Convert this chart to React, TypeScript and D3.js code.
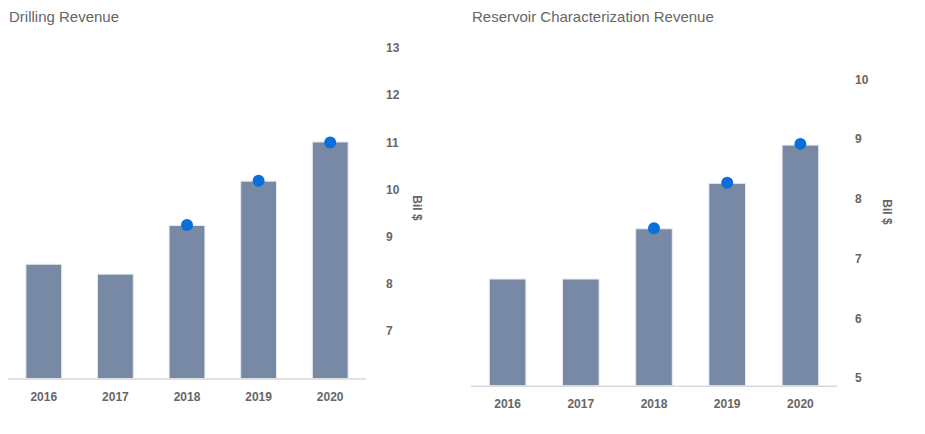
import React, { useEffect, useRef } from "react";
import * as d3 from "d3";

const years = ["2016", "2017", "2018", "2019", "2020"];

// Drilling, Bil $
const drillingRevenue = [8.42, 8.21, 9.24, 10.18, 11.01];
const drillingDots = [null, null, 9.25, 10.19, 11.0];
const drillingTicks = [7, 8, 9, 10, 11, 12, 13];

// Reservoir Characterization, Bil $
const reservoirRevenue = [6.66, 6.66, 7.5, 8.26, 8.9];
const reservoirDots = [null, null, 7.51, 8.27, 8.92];
const reservoirTicks = [5, 6, 7, 8, 9, 10];

type PanelProps = {
  title: string;
  titleX: number;
  values: number[];
  dots: (number | null)[];
  ticks: number[];
  yDomain: [number, number];
  yRange: [number, number];
  xRange: [number, number];
  tickX: number;
  unitX: number;
  unitY: number;
};

const FONT = "'Liberation Sans', Arial, sans-serif";

function drawPanel(svg: d3.Selection<SVGSVGElement, unknown, null, undefined>, p: PanelProps) {
  const g = svg.append("g");

  const x = d3.scaleBand()
    .domain(years)
    .range(p.xRange)
    .paddingInner(0.5)
    .paddingOuter(0.25);

  const y = d3.scaleLinear()
    .domain(p.yDomain)
    .range(p.yRange);

  const base = p.yRange[0];

  g.append("text")
    .attr("x", p.titleX)
    .attr("y", 22)
    .attr("font-family", FONT)
    .attr("font-size", 15)
    .attr("fill", "#666")
    .text(p.title);

  // y tick labels on the right
  g.selectAll(".ytick")
    .data(p.ticks)
    .enter()
    .append("text")
    .attr("x", p.tickX)
    .attr("y", d => y(d))
    .attr("dy", "0.35em")
    .attr("font-family", FONT)
    .attr("font-size", 12)
    .attr("font-weight", "bold")
    .attr("fill", "#666")
    .text(d => d);

  g.append("text")
    .attr("transform", `translate(${p.unitX},${p.unitY}) rotate(90)`)
    .attr("text-anchor", "middle")
    .attr("font-family", FONT)
    .attr("font-size", 12)
    .attr("font-weight", "bold")
    .attr("fill", "#666")
    .text("Bil $");

  g.selectAll("rect")
    .data(p.values)
    .enter()
    .append("rect")
    .attr("x", (_, i) => x(years[i])!)
    .attr("y", d => y(d))
    .attr("width", x.bandwidth())
    .attr("height", d => base - y(d))
    .attr("fill", "#7889a5")
    .attr("stroke", "#e8ebf0")
    .attr("stroke-width", 1);

  // baseline
  g.append("line")
    .attr("x1", p.xRange[0])
    .attr("x2", p.xRange[1])
    .attr("y1", base + 0.5)
    .attr("y2", base + 0.5)
    .attr("stroke", "#d8d8d8")
    .attr("stroke-width", 1.5);

  g.selectAll(".xlabel")
    .data(years)
    .enter()
    .append("text")
    .attr("x", d => x(d)! + x.bandwidth() / 2)
    .attr("y", base + 22)
    .attr("text-anchor", "middle")
    .attr("font-family", FONT)
    .attr("font-size", 12)
    .attr("font-weight", "bold")
    .attr("fill", "#666")
    .text(d => d);

  g.selectAll("circle")
    .data(p.dots.map((v, i) => ({ v, year: years[i] })).filter(d => d.v !== null))
    .enter()
    .append("circle")
    .attr("cx", d => x(d.year)! + x.bandwidth() / 2)
    .attr("cy", d => y(d.v as number))
    .attr("r", 6)
    .attr("fill", "#0a6fdb");
}

const App: React.FC = () => {
  const svgRef = useRef<SVGSVGElement | null>(null);

  useEffect(() => {
    if (!svgRef.current) return;
    const svg = d3.select(svgRef.current);
    svg.selectAll("*").remove();

    drawPanel(svg, {
      title: "Drilling Revenue",
      titleX: 9,
      values: drillingRevenue,
      dots: drillingDots,
      ticks: drillingTicks,
      yDomain: [6, 13],
      yRange: [378.5, 48],
      xRange: [8, 366],
      tickX: 386,
      unitX: 413,
      unitY: 208,
    });

    drawPanel(svg, {
      title: "Reservoir Characterization Revenue",
      titleX: 472,
      values: reservoirRevenue,
      dots: reservoirDots,
      ticks: reservoirTicks,
      yDomain: [4.876, 10],
      yRange: [385.7, 79.3],
      xRange: [471, 837],
      tickX: 855,
      unitX: 883,
      unitY: 212,
    });
  }, []);

  return (
    <svg
      ref={svgRef}
      width={925}
      height={434}
      style={{ position: "absolute", left: 0, top: 0, background: "#fff" }}
    ></svg>
  );
};

export default App;
